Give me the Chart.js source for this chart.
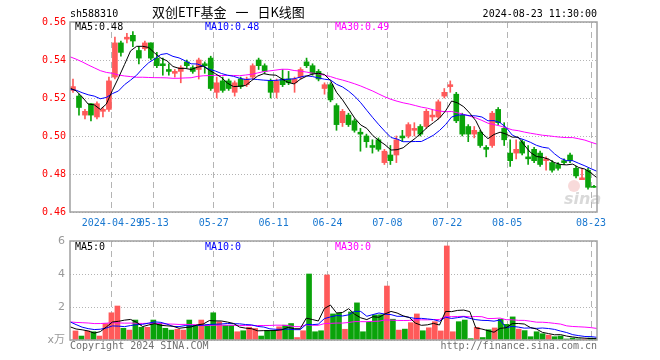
<!DOCTYPE html>
<html lang="zh-CN">
<head>
<meta charset="UTF-8">
<title>双创ETF基金 日K线图</title>
<script src="https://cdn.jsdelivr.net/npm/chart.js@4.4.1/dist/chart.umd.min.js"></script>
<style>
  html, body { margin: 0; padding: 0; background: #fff; }
  #wrap { position: relative; width: 660px; height: 360px; }
  #wrap canvas { position: absolute; left: 0; top: 0; }
</style>
</head>
<body>
<div id="wrap">
  <canvas id="kline" width="660" height="360"></canvas>
  <canvas id="vol" width="660" height="360"></canvas>
</div>
<script>
// ---- data (2024 trading days) ----
var dates = [
  '04-18','04-19','04-22','04-23','04-24','04-25','04-26','04-29','04-30','05-06',
  '05-07','05-08','05-09','05-10','05-13','05-14','05-15','05-16','05-17','05-20',
  '05-21','05-22','05-23','05-24','05-27','05-28','05-29','05-30','05-31','06-03',
  '06-04','06-05','06-06','06-07','06-11','06-12','06-13','06-14','06-17','06-18',
  '06-19','06-20','06-21','06-24','06-25','06-26','06-27','06-28','07-01','07-02',
  '07-03','07-04','07-05','07-08','07-09','07-10','07-11','07-12','07-15','07-16',
  '07-17','07-18','07-19','07-22','07-23','07-24','07-25','07-26','07-29','07-30',
  '07-31','08-01','08-02','08-05','08-06','08-07','08-08','08-09','08-12','08-13',
  '08-14','08-15','08-16','08-19','08-20','08-21','08-22','08-23'
];
var opens = [
  .524,.521,.511,.517,.510,.513,.514,.531,.549,.551,
  .553,.545,.546,.549,.541,.538,.535,.533,.534,.539,
  .536,.535,.538,.541,.523,.529,.529,.523,.530,.527,
  .531,.540,.537,.529,.523,.530,.530,.528,.531,.539,
  .537,.534,.525,.527,.516,.507,.511,.508,.502,.500,
  .495,.498,.486,.490,.490,.500,.500,.503,.505,.505,
  .510,.510,.521,.526,.522,.511,.505,.501,.502,.494,
  .495,.514,.504,.491,.491,.497,.489,.493,.491,.487,
  .486,.485,.487,.490,.483,.477,.482,.473
];
var highs = [
  .530,.522,.514,.517,.518,.515,.531,.552,.550,.554,
  .555,.547,.550,.549,.544,.541,.538,.535,.537,.540,
  .537,.541,.539,.542,.531,.531,.530,.529,.531,.531,
  .538,.541,.538,.530,.530,.535,.534,.531,.536,.541,
  .538,.535,.528,.528,.517,.514,.512,.509,.504,.501,
  .498,.499,.493,.495,.500,.503,.507,.507,.506,.514,
  .514,.519,.525,.529,.523,.512,.506,.505,.503,.495,
  .513,.515,.507,.498,.498,.498,.495,.494,.492,.489,
  .487,.486,.488,.491,.484,.483,.483,.474
];
var lows = [
  .523,.511,.509,.508,.509,.510,.513,.530,.542,.549,
  .547,.538,.545,.540,.536,.532,.532,.531,.528,.536,
  .533,.530,.533,.524,.520,.523,.524,.521,.525,.526,
  .530,.535,.533,.520,.520,.526,.527,.523,.530,.536,
  .532,.529,.522,.518,.503,.505,.505,.502,.492,.494,
  .491,.492,.485,.485,.486,.497,.499,.500,.500,.504,
  .508,.509,.520,.523,.507,.500,.497,.499,.494,.489,
  .494,.506,.495,.484,.488,.490,.485,.486,.484,.482,
  .481,.482,.485,.486,.478,.477,.472,.473
];
var closes = [
  .526,.515,.513,.511,.517,.514,.529,.549,.544,.552,
  .550,.541,.549,.541,.537,.537,.534,.534,.536,.537,
  .534,.540,.537,.525,.528,.524,.525,.528,.526,.530,
  .537,.537,.534,.523,.529,.527,.528,.530,.535,.537,
  .533,.530,.527,.519,.506,.513,.506,.503,.501,.497,
  .494,.493,.492,.487,.498,.499,.506,.504,.501,.513,
  .511,.518,.523,.527,.508,.501,.501,.503,.495,.493,
  .512,.507,.498,.487,.493,.491,.488,.487,.485,.488,
  .482,.483,.486,.487,.479,.478,.473,.473
];
var volumes = [
  .55,.24,.55,.50,.24,1.00,1.65,2.06,.71,.60,
  1.21,.77,.77,1.21,1.00,.71,.60,.65,.60,1.21,
  .90,1.21,.92,1.65,1.10,.88,.88,.50,.56,.77,
  .70,.24,.57,.57,.80,.90,1.00,.15,.56,4.00,
  .50,.56,3.94,1.58,1.62,.65,1.70,2.25,.50,1.08,
  1.52,1.53,3.27,1.26,.60,.66,1.05,1.58,.56,.74,
  1.11,.55,5.70,.50,1.11,1.21,.08,.77,.15,.62,
  .73,1.26,.95,1.40,.66,.57,.20,.50,.38,.30,
  .20,.24,.06,.12,.07,.06,.12,.06
];
// closes / volumes before 04-18, estimated from where the MA lines start
var prevCloses = [
  .552,.556,.560,.562,.559,.557,.563,.571,.567,.560,
  .552,.548,.545,.540,.538,.536,.541,.535,.532,.531,
  .520,.526,.522,.524,.528,.522,.529,.530,.519
];
var prevVolumes = [
  1.2,1.0,1.1,1.3,0.9,1.0,1.2,1.1,1.0,1.1,
  1.2,1.0,0.9,1.1,1.3,1.1,1.0,1.2,1.1,1.1,
  1.9,2.1,1.4,0.8,0.8,0.9,0.8,0.85,0.9
];
var tickDates = ['04-29','05-13','05-27','06-11','06-24','07-08','07-22','08-05','08-23'];
var priceTicks = [0.46, 0.48, 0.50, 0.52, 0.54, 0.56];
var volTicks = [0, 2, 4, 6];

var code = 'sh588310';
var title = '双创ETF基金 一 日K线图';
var stamp = '2024-08-23 11:30:00';
var priceMaText = ['MA5:0.48', 'MA10:0.48', 'MA30:0.49'];
var volMaText = ['MA5:0', 'MA10:0', 'MA30:0'];

// ---- helpers ----
var UP = '#ff5a5a', DOWN = '#0aa30a';
var MA_COLORS = ['#000000', '#0000ff', '#ff00ff'];
var MONO = '"DejaVu Sans Mono", monospace';

var barColors = closes.map(function(c, i){ return c > opens[i] ? UP : DOWN; });
var tickIdx = tickDates.map(function(d){ return dates.indexOf(d); });

function movingAvg(hist, values, n) {
  var all = hist.concat(values), off = hist.length;
  return values.map(function(v, i){
    var s = 0;
    for (var k = off + i - n + 1; k <= off + i; k++) s += all[k];
    return { x: i, y: s / n };
  });
}

function maLine(points, color) {
  return { type: 'line', data: points, xAxisID: 'xl', borderColor: color,
           borderWidth: 1, pointRadius: 0, order: 0 };
}

function xAxis(height, showLabels) {
  return {
    offset: true,
    afterFit: function(s){ s.height = height; },
    grid: { offset: true, drawTicks: false,
            color: function(ctx){ return tickIdx.indexOf(ctx.index) >= 0 ? '#b4b4b4' : 'rgba(0,0,0,0)'; } },
    border: { display: false, dash: [6, 4] },
    ticks: {
      display: showLabels, autoSkip: false, maxRotation: 0, minRotation: 0,
      padding: 5, labelOffset: -3, color: '#1a78d0', font: { family: MONO, size: 10 },
      callback: function(v, i){
        var k = tickIdx.indexOf(i);
        if (k < 0) return '';
        return k === 0 ? '2024-' + dates[i] : dates[i];
      }
    }
  };
}

// MA lines run edge to edge of the plot, so they get their own hidden axis
var linearX = { type: 'linear', display: false, offset: false, min: 0, max: dates.length - 1 };

function frame(chart) {
  var c = chart.ctx, a = chart.chartArea;
  c.strokeStyle = '#a0a0a0';
  c.lineWidth = 1.5;
  c.strokeRect(a.left, a.top, a.right - a.left, a.bottom - a.top);
}

function maTexts(chart, texts, y) {
  var c = chart.ctx, xs = [75, 205, 335];
  c.font = '10px ' + MONO;
  c.textAlign = 'left';
  c.textBaseline = 'alphabetic';
  texts.forEach(function(t, i){ c.fillStyle = MA_COLORS[i]; c.fillText(t, xs[i], y); });
}

var klineDecor = {
  id: 'klineDecor',
  beforeDatasetsDraw: function(chart) {
    var c = chart.ctx;
    c.save();
    c.font = 'italic bold 16px "DejaVu Sans"';
    c.fillStyle = 'rgba(185,185,185,0.55)';
    c.fillText('sina', 564, 204);
    c.fillStyle = 'rgba(235,150,150,0.35)';
    c.beginPath(); c.arc(574, 186, 6, 0, Math.PI * 2); c.fill();
    c.restore();
  },
  afterDraw: function(chart) {
    var c = chart.ctx, a = chart.chartArea;
    c.save();
    frame(chart);
    c.fillStyle = '#000';
    c.font = '10px ' + MONO;
    c.textBaseline = 'alphabetic';
    c.textAlign = 'left';
    c.fillText(code, a.left, 17);
    c.textAlign = 'right';
    c.fillText(stamp, a.right, 17);
    c.textAlign = 'left';
    c.font = '13px "Noto Sans CJK SC"';
    c.wordSpacing = '6px';
    c.fillText(title, 152, 17);
    c.wordSpacing = '0px';
    maTexts(chart, priceMaText, 30);
    c.restore();
  }
};

var volDecor = {
  id: 'volDecor',
  afterDraw: function(chart) {
    var c = chart.ctx, a = chart.chartArea;
    c.save();
    frame(chart);
    maTexts(chart, volMaText, 250);
    c.fillStyle = '#707070';
    c.font = '10px ' + MONO;
    c.textAlign = 'left';
    c.fillText('Copyright 2024 SINA.COM', a.left, 349);
    c.textAlign = 'right';
    c.fillText('http://finance.sina.com.cn', a.right, 349);
    c.restore();
  }
};

// ---- price chart ----
new Chart(document.getElementById('kline'), {
  type: 'bar',
  data: {
    labels: dates,
    datasets: [
      maLine(movingAvg(prevCloses, closes, 5), MA_COLORS[0]),
      maLine(movingAvg(prevCloses, closes, 10), MA_COLORS[1]),
      maLine(movingAvg(prevCloses, closes, 30), MA_COLORS[2]),
      { data: lows.map(function(l, i){ return [l, highs[i]]; }),
        backgroundColor: barColors, borderWidth: 0, barThickness: 1, grouped: false, order: 2 },
      { data: opens.map(function(o, i){ return [o, closes[i]]; }),
        backgroundColor: barColors, borderWidth: 0, barThickness: 5, minBarLength: 1, grouped: false, order: 1 }
    ]
  },
  options: {
    responsive: false,
    animation: false,
    layout: { padding: { top: 22, right: 63, left: 0, bottom: 0 } },
    plugins: { legend: { display: false }, tooltip: { enabled: false } },
    scales: {
      x: xAxis(148, true),
      xl: linearX,
      y: {
        min: 0.46, max: 0.56,
        afterFit: function(s){ s.width = 70; },
        afterBuildTicks: function(s){ s.ticks = priceTicks.map(function(v){ return { value: v }; }); },
        grid: { drawTicks: false, color: '#b4b4b4' },
        border: { display: false, dash: [1, 2] },
        ticks: { padding: 4, color: '#ff0000', font: { family: MONO, size: 10 },
                 callback: function(v){ return v.toFixed(2); } }
      }
    }
  },
  plugins: [klineDecor]
});

// ---- volume chart ----
new Chart(document.getElementById('vol'), {
  type: 'bar',
  data: {
    labels: dates,
    datasets: [
      maLine(movingAvg(prevVolumes, volumes, 5), MA_COLORS[0]),
      maLine(movingAvg(prevVolumes, volumes, 10), MA_COLORS[1]),
      maLine(movingAvg(prevVolumes, volumes, 30), MA_COLORS[2]),
      { data: volumes, backgroundColor: barColors, borderWidth: 0, barThickness: 5, order: 1 }
    ]
  },
  options: {
    responsive: false,
    animation: false,
    layout: { padding: { top: 241, right: 63, left: 0, bottom: 0 } },
    plugins: { legend: { display: false }, tooltip: { enabled: false } },
    scales: {
      x: xAxis(20, false),
      xl: linearX,
      y: {
        min: 0, max: 6,
        afterFit: function(s){ s.width = 70; },
        afterBuildTicks: function(s){ s.ticks = volTicks.map(function(v){ return { value: v }; }); },
        grid: { drawTicks: false, color: '#b4b4b4' },
        border: { display: false, dash: [1, 2] },
        ticks: { padding: 5, color: '#999999', font: { family: '"DejaVu Sans", "Noto Sans CJK SC"', size: 11 },
                 callback: function(v){ return v === 0 ? 'x万' : String(v); } }
      }
    }
  },
  plugins: [volDecor]
});
</script>
</body>
</html>
